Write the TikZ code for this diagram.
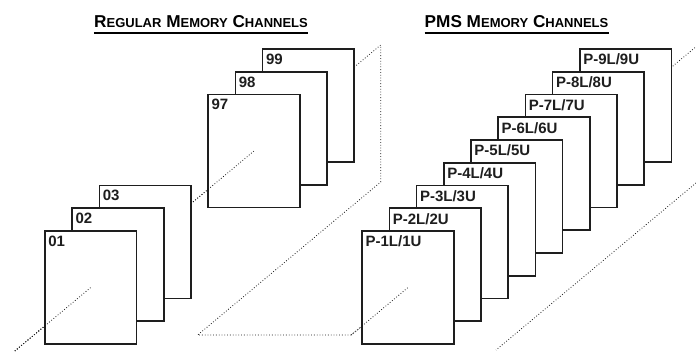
\documentclass[tikz,border=0pt]{standalone}
\usepackage{fontspec}
\setmainfont{Liberation Sans}
\usetikzlibrary{positioning,calc}
\definecolor{ChanLine}{HTML}{1E1E1E}
\definecolor{AxisDot}{HTML}{1A1A1A}
\tikzset{chan/.style={draw=ChanLine,fill=white,line width=1.6pt,minimum width=91.5pt,
 minimum height=113pt,inner sep=0pt},chanlab/.style={anchor=north west,inner xsep=4pt,
 inner ysep=5.5pt,font=\fontsize{15}{15}\selectfont\bfseries,text=ChanLine},axis/.style={draw=AxisDot,
 dotted,line width=0.8pt},ttl/.style={anchor=base,inner sep=0pt,
 font=\fontsize{17.2}{18}\selectfont\bfseries}}
\newcommand{\scword}[2]{{\fontsize{17.2}{18}\selectfont #1}{\fontsize{13}{14}\selectfont #2}}

\begin{document}
\begin{tikzpicture}[x=1pt,y=-1pt]
\useasboundingbox (0,0) rectangle (696,351);
\node[ttl] (regttl) at (201,27) {\scword{R}{EGULAR} \scword{M}{EMORY} \scword{C}{HANNELS}};
\node[ttl] (pmsttl) at (516.5,27) {PMS \scword{M}{EMORY} \scword{C}{HANNELS}};
\foreach \t in {regttl,pmsttl}
 \draw[line width=2pt] ([yshift=-5.5pt]\t.base west)--([yshift=-5.5pt]\t.base east);
\coordinate (rfoot) at (14.8,351);
\coordinate (rtop) at (380.7,45);
\coordinate (rbend) at (380.7,182);
\coordinate (rbase) at (197.7,335);
\coordinate (pfoot) at (351.2,335);
\coordinate (ptop) at (696,46.7);
\coordinate (qtop) at (696,183);
\coordinate (qfoot) at (496,350);
% hidden parts first
\draw[axis] (rfoot)--(rtop)--(rbend)--(rbase)--(pfoot)--(ptop);
\draw[axis] (qtop)--(qfoot);
\foreach \k/\lab in {8/99,7/98,6/97}
 {\node[chan] (r\lab) at (90.75+27.2*\k,287.5-22.75*\k) {};
  \node[chanlab] at (r\lab.north west) {\lab};}
\draw[axis] (rfoot)--(r97.center);
\foreach \k/\lab in {2/03,1/02,0/01}
 {\node[chan] (r\lab) at (90.75+27.2*\k,287.5-22.75*\k) {};
  \node[chanlab] at (r\lab.north west) {\lab};}
\draw[axis] (rfoot)--(r01.center);
\foreach \k/\n in {8/9,7/8,6/7,5/6,4/5,3/4,2/3,1/2,0/1}
 {\node[chan] (p\n) at (408+27.2*\k,287.5-22.75*\k) {};
  \node[chanlab] at (p\n.north west) {P-\n L/\n U};}
\draw[axis] (pfoot)--(p1.center);
\end{tikzpicture}
\end{document}
